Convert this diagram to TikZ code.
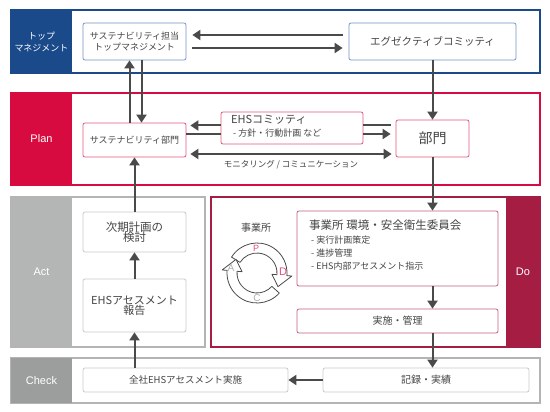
\documentclass[tikz,border=0pt]{standalone}
\usepackage{fontspec}
\setmainfont{Noto Sans CJK JP}
\newfontfamily\latinsans{Liberation Sans}
\usetikzlibrary{arrows.meta}
\definecolor{topblue}{HTML}{1B4A8B}
\definecolor{topline}{HTML}{7396C6}
\definecolor{planred}{HTML}{D70B3F}
\definecolor{planline}{HTML}{E0587A}
\definecolor{dored}{HTML}{A51D43}
\definecolor{doline}{HTML}{C6607C}
\definecolor{actgray}{HTML}{B4B6B6}
\definecolor{checkgray}{HTML}{9C9E9E}
\definecolor{frameline}{HTML}{B4B4B4}
\definecolor{grayline}{HTML}{CACACA}
\definecolor{txtgray}{HTML}{454545}
\definecolor{arrgray}{HTML}{4A4A4A}
\definecolor{cyclepink}{HTML}{E2507F}
\definecolor{cyclegray}{HTML}{AEAEAE}
\newcommand\fsz[1]{\fontsize{#1}{#1}\selectfont}

\begin{document}
\begin{tikzpicture}[x=1pt,y=-1pt,
  box/.style={draw,rounded corners=2pt,fill=white,text=txtgray,align=center,inner sep=1pt,line width=0.8pt},
  topbox/.style={box,draw=topline},
  planbox/.style={box,draw=planline},
  actbox/.style={box,draw=grayline},
  dobox/.style={box,draw=doline},
  band/.style={text=white,align=center,inner sep=0pt},
  flow/.style={draw=arrgray,line width=2pt,-{Triangle[length=8pt,width=10pt]}},
  both/.style={draw=arrgray,line width=2pt,{Triangle[length=8pt,width=10pt]}-{Triangle[length=8pt,width=10pt]}},
  plain/.style={draw=arrgray,line width=2pt},
  cyclearrow/.style={fill=white,draw=arrgray,line width=0.8pt,line join=round}]
\useasboundingbox (0,0) rectangle (550,412);
\fill[white] (0,0) rectangle (550,412);
% bands
\draw[topblue,line width=1.5pt] (11,10) rectangle (540,73);
\fill[topblue] (11,10) rectangle (72,73);
\draw[planred,line width=1.5pt] (11,93) rectangle (540,185);
\fill[planred] (11,93) rectangle (72,185);
\draw[frameline,line width=1.5pt] (11,197) rectangle (205,347);
\fill[actgray] (11,197) rectangle (72,347);
\draw[dored,line width=1.5pt] (211,197) rectangle (540,347);
\fill[dored] (506,197) rectangle (540,347);
\draw[frameline,line width=1.5pt] (11,358) rectangle (540,403);
\fill[checkgray] (11,358) rectangle (72,403);
\node[band,font=\fsz{9}] (toplbl) at (41.5,41.5) {トップ\\[3pt]マネジメント};
\node[band,font=\latinsans\fsz{11}] (planlbl) at (41.5,139) {Plan};
\node[band,font=\latinsans\fsz{11}] (actlbl) at (41.5,272) {Act};
\node[band,font=\latinsans\fsz{11}] (dolbl) at (523,272) {Do};
\node[band,font=\latinsans\fsz{11}] (checklbl) at (41.5,380.5) {Check};
% top management
\node[topbox,minimum width=103pt,minimum height=37pt,font=\fsz{9}] (topmgmt) at (134.5,41.5) {サステナビリティ担当\\[2pt]トップマネジメント};
\node[topbox,minimum width=167pt,minimum height=37pt,font=\fsz{10.5}] (exec) at (432.5,41.5) {エグゼクティブコミッティ};
% plan
\node[planbox,minimum width=103pt,minimum height=34pt,font=\fsz{9}] (sust) at (134.5,140) {サステナビリティ部門};
\node[planbox,minimum width=73pt,minimum height=37pt,font=\fsz{14}] (bumon) at (432.5,138.5) {部門};
\node[planbox,minimum width=142pt,minimum height=32pt] (ehs) at (292,128) {};
\node[anchor=north west,align=left,text=txtgray,inner sep=0pt] (ehstxt) at (231,115) {{\fsz{11}EHSコミッティ}\\[1pt]{\fsz{9}\ - 方針・行動計画 など}};
% act
\node[actbox,minimum width=103pt,minimum height=40pt,font=\fsz{11.5}] (nextplan) at (134.5,232) {次期計画の\\[-1pt]検討};
\node[actbox,minimum width=103pt,minimum height=53pt,font=\fsz{11}] (report) at (134.5,305.5) {EHSアセスメント\\[-1pt]報告};
% do
\node[dobox,minimum width=201pt,minimum height=75pt] (comm) at (397.5,248.5) {};
\node[anchor=north west,align=left,text=txtgray,inner sep=0pt] (commtxt) at (309,220) {{\fsz{11.5}事業所 環境・安全衛生委員会}\\[2pt]
  {\fsz{9}\ - 実行計画策定}\\[1pt]{\fsz{9}\ - 進捗管理}\\[1pt]{\fsz{9}\ - EHS内部アセスメント指示}};
\node[dobox,minimum width=201pt,minimum height=24pt,font=\fsz{10}] (impl) at (397.5,321) {実施・管理};
\node[text=txtgray,font=\fsz{10},inner sep=0pt] (site) at (256,228) {事業所};
% check
\node[actbox,minimum width=205pt,minimum height=24pt,font=\fsz{9.5}] (allco) at (185.5,380) {全社EHSアセスメント実施};
\node[actbox,minimum width=206pt,minimum height=24pt,font=\fsz{10}] (record) at (426,380) {記録・実績};
% cycle
\begin{scope}[shift={(257,273)},x=1pt,y=1pt]
\draw[cyclearrow] (148:30pt) arc[start angle=148,end angle=-5,radius=30pt] -- (-5:35pt) -- (-33:25pt) -- (-5:15pt) -- (-5:20pt) arc[start angle=-5,end angle=148,radius=20pt] -- cycle;
\draw[cyclearrow] (-42:30pt) arc[start angle=-42,end angle=-185,radius=30pt] -- (-185:35pt) -- (-213:25pt) -- (-185:15pt) -- (-185:20pt) arc[start angle=-185,end angle=-42,radius=20pt] -- cycle;
\end{scope}
\node[text=cyclepink,font=\latinsans\fsz{9}] (cp) at (256,248) {P};
\node[text=cyclepink,font=\latinsans\fsz{11}] (cd) at (283,272) {D};
\node[text=cyclegray,font=\latinsans\fsz{10}] (cc) at (257,298) {C};
\node[text=cyclegray,font=\latinsans\fsz{10}] (ca) at (231,268) {A};
% connectors
\draw[flow,shorten >=6pt,shorten <=6pt] ([yshift=6.5pt]exec.west) -- ([yshift=6.5pt]topmgmt.east);
\draw[flow,shorten >=6pt,shorten <=6pt] ([yshift=-6.5pt]topmgmt.east) -- ([yshift=-6.5pt]exec.west);
\draw[flow] ([xshift=-5pt]sust.north) -- ([xshift=-5pt]topmgmt.south);
\draw[flow] ([xshift=7pt]topmgmt.south) -- ([xshift=7pt]sust.north);
\draw[flow,shorten >=4pt] ([yshift=2.5pt]ehs.west) -- ([yshift=2.5pt]ehs.west -| sust.east);
\draw[plain] ([yshift=-6pt]ehs.west -| sust.east) -- ([yshift=-6pt]ehs.west);
\draw[plain,shorten <=5pt] ([yshift=2.5pt]ehs.east -| bumon.west) -- ([yshift=2.5pt]ehs.east);
\draw[flow,shorten >=5pt] ([yshift=-6pt]ehs.east) -- ([yshift=-6pt]ehs.east -| bumon.west);
\draw[both,shorten >=4pt,shorten <=4pt] ([yshift=-14pt]sust.east) -- ([yshift=-14pt]sust.east -| bumon.west) node[midway,below=2pt,text=txtgray,font=\fsz{8.5}] (moni) {モニタリング / コミュニケーション};
\draw[flow] (exec.south) -- (bumon.north);
\draw[flow] (bumon.south) -- (bumon.south |- comm.north);
\draw[flow] (comm.south -| bumon.south) -- (impl.north -| bumon.south);
\draw[flow] (impl.south -| bumon.south) -- (record.north -| bumon.south);
\draw[flow] (record.west) -- (allco.east);
\draw[flow] (report.south |- allco.north) -- (report.south);
\draw[flow] (report.north) -- (nextplan.south);
\draw[flow] (nextplan.north) -- (sust.south);
\end{tikzpicture}
\end{document}
